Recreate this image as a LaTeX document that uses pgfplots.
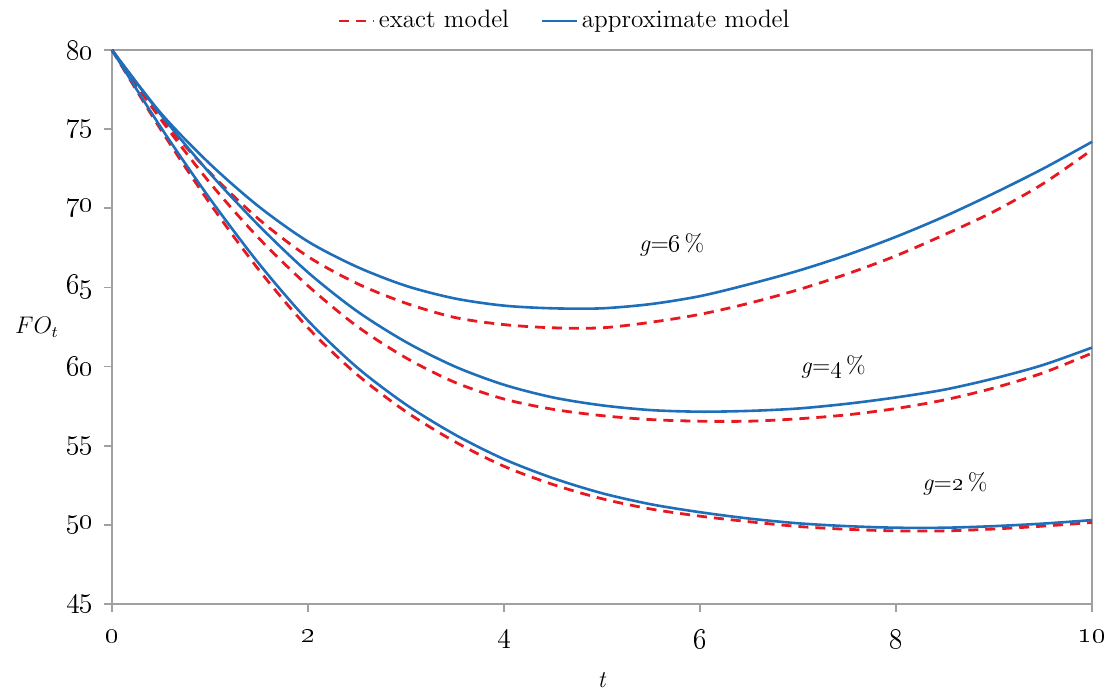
\documentclass[border=0pt]{standalone}
\usepackage{pgfplots}
\pgfplotsset{compat=1.18}

\definecolor{exred}{RGB}{232,24,32}
\definecolor{apblue}{RGB}{30,110,185}
\definecolor{axgray}{RGB}{160,160,160}

\pgfplotsset{
  exact/.style={exred, line width=1.4pt, dash pattern=on 5pt off 3.5pt, smooth},
  approx/.style={apblue, line width=1.3pt, smooth},
}

\begin{document}
\fontsize{12}{14}\selectfont
\begin{tikzpicture}
\begin{axis}[
    scale only axis,
    width=490pt, height=277pt,
    xmin=0, xmax=10, ymin=45, ymax=80,
    xtick={0,2,4,6,8,10},
    xticklabels={\oldstylenums{0},\oldstylenums{2},\oldstylenums{4},\oldstylenums{6},\oldstylenums{8},\oldstylenums{10}},
    ytick={45,50,55,60,65,70,75,80},
    yticklabels={\oldstylenums{45},\oldstylenums{50},\oldstylenums{55},\oldstylenums{60},\oldstylenums{65},\oldstylenums{70},\oldstylenums{75},\oldstylenums{80}},
    ticklabel style={font=\fontsize{13.5}{15}\selectfont},
    xtick pos=left, ytick pos=left,
    tick align=outside,
    major tick length=4pt,
    axis line style={axgray, line width=0.8pt},
    tick style={axgray, line width=0.8pt},
    xticklabel style={yshift=-5pt},
    yticklabel style={xshift=-1pt},
    clip=false,
    legend columns=2,
    legend style={draw=none, fill=none, at={(rel axis cs:0.463,1)}, anchor=south, yshift=5pt,
      font=\fontsize{12.6}{14}\selectfont,
      /tikz/every even column/.append style={column sep=14pt}},
    legend cell align=left,
]

% exact model
\addplot[exact, forget plot] coordinates {
(0,80) (0.5,75.7) (1,72.25) (1.5,69.3) (2,66.95) (2.5,65.25) (3,64.0) (3.5,63.1) (4,62.65) (4.5,62.45)
(5,62.45) (5.5,62.8) (6,63.3) (6.5,64.0) (7,64.85) (7.5,65.85) (8,67.0) (8.5,68.35) (9,69.8) (9.5,71.55) (10,73.7)};
\addplot[exact, forget plot] coordinates {
(0,80) (0.5,75.6) (1,71.6) (1.5,68.1) (2,65.1) (2.5,62.55) (3,60.55) (3.5,59.0) (4,57.95) (4.5,57.3)
(5,56.9) (5.5,56.65) (6,56.55) (6.5,56.55) (7,56.7) (7.5,56.95) (8,57.35) (8.5,57.9) (9,58.65) (9.5,59.6) (10,60.85)};
\addplot[exact, forget plot] coordinates {
(0,80) (0.5,74.95) (1,70.3) (1.5,66.1) (2,62.45) (2.5,59.5) (3,57.15) (3.5,55.25) (4,53.7) (4.5,52.55)
(5,51.65) (5.5,51.0) (6,50.55) (6.5,50.2) (7,49.9) (7.5,49.72) (8,49.62) (8.5,49.62) (9,49.74) (9.5,49.92) (10,50.15)};

% approximate model
\addplot[approx, forget plot] coordinates {
(0,80) (0.5,76.0) (1,72.8) (1.5,70.1) (2,67.9) (2.5,66.3) (3,65.1) (3.5,64.3) (4,63.85) (4.5,63.68)
(5,63.68) (5.5,63.95) (6,64.45) (6.5,65.2) (7,66.05) (7.5,67.05) (8,68.2) (8.5,69.5) (9,70.95) (9.5,72.5) (10,74.2)};
\addplot[approx, forget plot] coordinates {
(0,80) (0.5,75.9) (1,72.2) (1.5,68.9) (2,65.95) (2.5,63.5) (3,61.55) (3.5,60.0) (4,58.85) (4.5,58.05)
(5,57.55) (5.5,57.25) (6,57.15) (6.5,57.2) (7,57.35) (7.5,57.65) (8,58.05) (8.5,58.55) (9,59.25) (9.5,60.1) (10,61.2)};
\addplot[approx, forget plot] coordinates {
(0,80) (0.5,75.1) (1,70.6) (1.5,66.5) (2,62.9) (2.5,59.95) (3,57.6) (3.5,55.7) (4,54.15) (4.5,52.95)
(5,52.0) (5.5,51.3) (6,50.8) (6.5,50.4) (7,50.1) (7.5,49.92) (8,49.82) (8.5,49.82) (9,49.92) (9.5,50.08) (10,50.3)};

\addlegendimage{exred, line width=1.4pt, dash pattern=on 5pt off 3.5pt}
\addlegendentry{exact model}
\addlegendimage{apblue, line width=1.3pt}
\addlegendentry{approximate model}

\node at (axis cs:5.71,67.7) {\textit{g}=\oldstylenums{6}\,\%};
\node at (axis cs:7.36,60.0) {\textit{g}=\oldstylenums{4}\,\%};
\node at (axis cs:8.60,52.6) {\textit{g}=\oldstylenums{2}\,\%};

\node at (rel axis cs:0,0.5) [xshift=-37.5pt] {$FO_t$};
\node at (rel axis cs:0.5,0) [yshift=-38pt] {\textit{t}};

\coordinate (bl) at (rel axis cs:0,0);
\coordinate (tr) at (rel axis cs:1,1);
\end{axis}
\pgfresetboundingbox
\path[use as bounding box] ([shift={(-56pt,-44pt)}]bl) rectangle ([shift={(8pt,25pt)}]tr);
\end{tikzpicture}
\end{document}
